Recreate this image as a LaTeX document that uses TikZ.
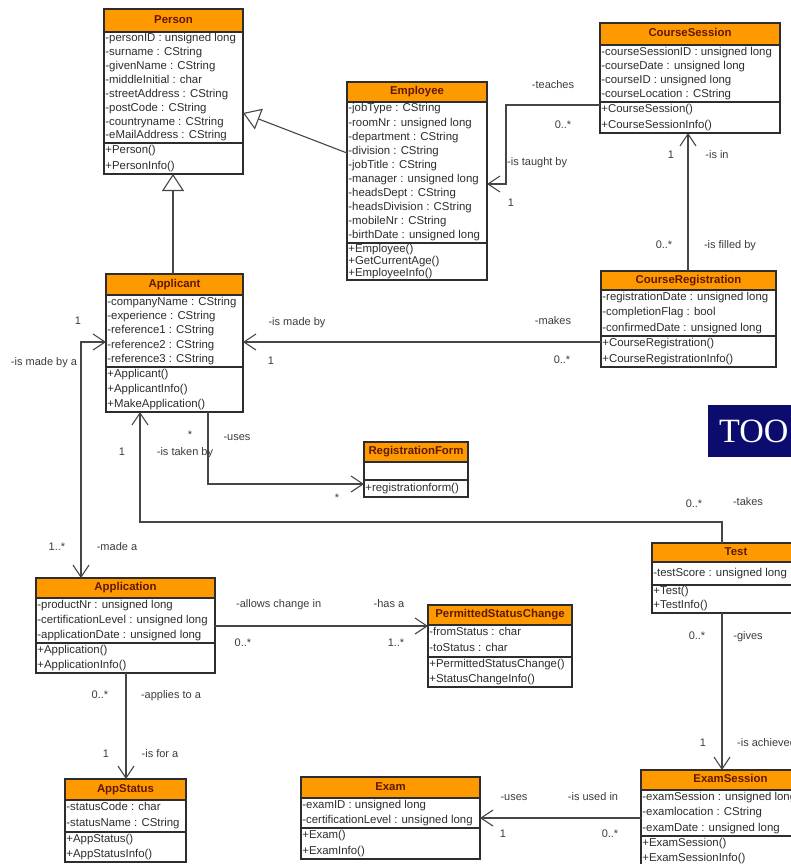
\documentclass[tikz,border=0pt]{standalone}
\usepackage{fontspec}
\setmainfont{Liberation Sans}
\newfontfamily\bannerfont{Liberation Serif}
\usetikzlibrary{arrows.meta}

\definecolor{headorange}{RGB}{255,153,0}
\definecolor{headink}{RGB}{95,25,0}
\definecolor{bodyink}{RGB}{45,45,45}
\definecolor{edgeink}{RGB}{45,45,45}
\definecolor{lineink}{RGB}{70,70,70}
\definecolor{labelink}{RGB}{60,60,60}
\definecolor{bannerblue}{RGB}{12,12,110}

\tikzset{
  classfill/.style={fill=white, inner sep=0pt, outer sep=0pt},
  boxedge/.style={draw=edgeink, line width=1.1pt},
  headtext/.style={font=\fontsize{11.4}{13}\selectfont\bfseries, text=headink,
    inner sep=0pt, text height=8.2pt, text depth=2.4pt},
  rowtext/.style={font=\fontsize{11.4}{13}\selectfont, text=bodyink, inner sep=0pt,
    anchor=west, text height=8.2pt, text depth=2.4pt},
  lbl/.style={font=\fontsize{11}{13}\selectfont, text=labelink, inner sep=0pt,
    text height=8pt, text depth=2.2pt},
  conn/.style={draw=lineink, line width=1.1pt},
  assoc/.style={conn, -{Straight Barb[length=12pt,width=16pt]}},
  assocboth/.style={conn, {Straight Barb[length=12pt,width=16pt]}-{Straight Barb[length=12pt,width=16pt]}},
  gen/.style={conn, -{Triangle[open, fill=white, length=17pt, width=22pt]}},
}

% class box: id, title, left, right, top, header bottom, attribute bottom, bottom
\newcommand\umlclass[8]{%
  \node[classfill, minimum width={#4-#3}, minimum height={#8-#5}, anchor=north west] (#1) at (#3,#5) {};
  \fill[headorange] (#3,#5) rectangle (#4,#6);
  \node[headtext] (#1-title) at ({(#3+#4)/2},{(#5+#6)/2}) {#2};
  \draw[boxedge] (#3,#6) -- (#4,#6);
  \draw[boxedge] (#3,#7) -- (#4,#7);
  \draw[boxedge] (#1.north west) rectangle (#1.south east);
}
% compartment rows: name prefix, left, top, bottom, count, entries
\newcommand\classrows[6]{%
  \foreach \rowtxt [count=\rowidx] in {#6}{%
    \node[rowtext] (#1-\rowidx) at ({#2+1.2},{#3+(#4-#3)*(\rowidx-0.5)/#5}) {\rowtxt};
  }%
}

\begin{document}
\begin{tikzpicture}[x=1pt, y=-1pt]
\useasboundingbox (0,0) rectangle (791,864);
\clip (0,0) rectangle (791,864);
\fill[white] (0,0) rectangle (791,864);

% ---------- classes ----------
\umlclass{Person}{Person}{104}{243}{9}{32}{143}{174}
\classrows{Person-a}{104}{32}{143}{8}{-personID : unsigned long, -surname : CString, -givenName : CString, -middleInitial : char, -streetAddress : CString, -postCode : CString, -countryname : CString, -eMailAddress : CString}
\classrows{Person-m}{104}{143}{174}{2}{+Person(), +PersonInfo()}

\umlclass{Employee}{Employee}{347}{487}{82}{102}{243}{280}
\classrows{Employee-a}{347}{102}{243}{10}{-jobType : CString, -roomNr : unsigned long, -department : CString, -division : CString, -jobTitle : CString, -manager : unsigned long, -headsDept : CString, -headsDivision : CString, -mobileNr : CString, -birthDate : unsigned long}
\classrows{Employee-m}{347}{243}{280}{3}{+Employee(), +GetCurrentAge(), +EmployeeInfo()}

\umlclass{CourseSession}{CourseSession}{600}{780}{23}{45}{102}{133}
\classrows{CourseSession-a}{600}{45}{102}{4}{-courseSessionID : unsigned long, -courseDate : unsigned long, -courseID : unsigned long, -courseLocation : CString}
\classrows{CourseSession-m}{600}{102}{133}{2}{+CourseSession(), +CourseSessionInfo()}

\umlclass{CourseRegistration}{CourseRegistration}{601}{776}{271}{290}{336}{367}
\classrows{CourseRegistration-a}{601}{290}{336}{3}{-registrationDate : unsigned long, -completionFlag : bool, -confirmedDate : unsigned long}
\classrows{CourseRegistration-m}{601}{336}{367}{2}{+CourseRegistration(), +CourseRegistrationInfo()}

\umlclass{Applicant}{Applicant}{106}{243}{274}{295}{367}{412}
\classrows{Applicant-a}{106}{295}{367}{5}{-companyName : CString, -experience : CString, -reference1 : CString, -reference2 : CString, -reference3 : CString}
\classrows{Applicant-m}{106}{367}{412}{3}{+Applicant(), +ApplicantInfo(), +MakeApplication()}

\umlclass{RegistrationForm}{RegistrationForm}{364}{468}{442}{462}{480}{497}
\classrows{RegistrationForm-m}{364}{480}{497}{1}{+registrationform()}

\umlclass{Application}{Application}{36}{215}{578}{598}{643}{673}
\classrows{Application-a}{36}{598}{643}{3}{-productNr : unsigned long, -certificationLevel : unsigned long, -applicationDate : unsigned long}
\classrows{Application-m}{36}{643}{673}{2}{+Application(), +ApplicationInfo()}

\umlclass{PSC}{PermittedStatusChange}{428}{572}{605}{625}{657}{687}
\classrows{PSC-a}{428}{625}{657}{2}{-fromStatus : char, -toStatus : char}
\classrows{PSC-m}{428}{657}{687}{2}{+PermittedStatusChange(), +StatusChangeInfo()}

\umlclass{Test}{Test}{652}{820}{543}{562}{585}{613}
\classrows{Test-a}{652}{562}{585}{1}{-testScore : unsigned long}
\classrows{Test-m}{652}{585}{613}{2}{+Test(), +TestInfo()}

\umlclass{AppStatus}{AppStatus}{65}{186}{779}{800}{832}{862}
\classrows{AppStatus-a}{65}{800}{832}{2}{-statusCode : char, -statusName : CString}
\classrows{AppStatus-m}{65}{832}{862}{2}{+AppStatus(), +AppStatusInfo()}

\umlclass{Exam}{Exam}{301}{480}{777}{798}{828}{859}
\classrows{Exam-a}{301}{798}{828}{2}{-examID : unsigned long, -certificationLevel : unsigned long}
\classrows{Exam-m}{301}{828}{859}{2}{+Exam(), +ExamInfo()}

\umlclass{ExamSession}{ExamSession}{641}{820}{770}{790}{836}{866}
\classrows{ExamSession-a}{641}{790}{836}{3}{-examSession : unsigned long, -examlocation : CString, -examDate : unsigned long}
\classrows{ExamSession-m}{641}{836}{866}{2}{+ExamSession(), +ExamSessionInfo()}

% ---------- banner ----------
\node[fill=bannerblue, inner sep=0pt, outer sep=0pt, minimum width=90pt, minimum height=52pt, anchor=north west] (banner) at (708,405) {};
\node[font=\bannerfont\fontsize{34}{36}\selectfont, text=white, inner sep=0pt, anchor=base west] (bannertext) at (719,442) {TOO};

% ---------- generalisations ----------
\draw[gen] (Employee.west |- 0,153) -- (Person.east |- 0,113);
\draw[gen] (Applicant.north -| 173,0) -- (Person.south -| 173,0);

% ---------- associations ----------
\draw[assoc] (CourseSession.west |- 0,105) -- (506,105) -- (506,184) -- (Employee.east |- 0,184);
\draw[assoc] (CourseRegistration.north -| 688,0) -- (CourseSession.south -| 688,0);
\draw[assoc] (CourseRegistration.west |- 0,342) -- (Applicant.east |- 0,342);
\draw[assocboth] (Applicant.west |- 0,342) -- (81,342) -- (Application.north -| 81,0);
\draw[assoc] (Test.north -| 722,0) -- (722,522) -- (140,522) -- (Applicant.south -| 140,0);
\draw[assoc] (Applicant.south -| 208,0) -- (208,484) -- (RegistrationForm.west |- 0,484);
\draw[assoc] (Application.east |- 0,626) -- (PSC.west |- 0,626);
\draw[assoc] (Application.south -| 126,0) -- (AppStatus.north -| 126,0);
\draw[assoc] (Test.south -| 722,0) -- (ExamSession.north -| 722,0);
\draw[assoc] (ExamSession.west |- 0,818) -- (Exam.east |- 0,818);

% ---------- role names and multiplicities ----------
\node[lbl] (l-teaches) at (553,86) {-teaches};
\node[lbl] (l-teachesm) at (563,126) {0..*};
\node[lbl, anchor=west] (l-taught) at (507,163) {-is taught by};
\node[lbl] (l-taughtm) at (511,204) {1};
\node[lbl] (l-isinm) at (671,156) {1};
\node[lbl] (l-isin) at (717,156) {-is in};
\node[lbl] (l-filledm) at (664,246) {0..*};
\node[lbl] (l-filled) at (730,246) {-is filled by};
\node[lbl] (l-makes) at (553,322) {-makes};
\node[lbl] (l-makesm) at (562,361) {0..*};
\node[lbl] (l-madeby) at (297,323) {-is made by};
\node[lbl] (l-madebym) at (271,362) {1};
\node[lbl] (l-madebyam) at (78,322) {1};
\node[lbl] (l-madebya) at (44,363) {-is made by a};
\node[lbl] (l-usesm) at (190,436) {*};
\node[lbl] (l-uses) at (237,438) {-uses};
\node[lbl] (l-takenm) at (122,453) {1};
\node[lbl] (l-taken) at (185,453) {-is taken by};
\node[lbl] (l-formm) at (337,499) {*};
\node[lbl] (l-takesm) at (694,505) {0..*};
\node[lbl] (l-takes) at (748,503) {-takes};
\node[lbl] (l-madeam) at (57,548) {1..*};
\node[lbl] (l-madea) at (117,548) {-made a};
\node[lbl, anchor=west] (l-allows) at (236,605) {-allows change in};
\node[lbl] (l-allowsm) at (243,644) {0..*};
\node[lbl] (l-hasa) at (389,605) {-has a};
\node[lbl] (l-hasam) at (396,644) {1..*};
\node[lbl] (l-givesm) at (697,637) {0..*};
\node[lbl] (l-gives) at (748,637) {-gives};
\node[lbl] (l-appliesm) at (100,696) {0..*};
\node[lbl] (l-applies) at (171,696) {-applies to a};
\node[lbl] (l-achievedm) at (703,744) {1};
\node[lbl, anchor=west] (l-achieved) at (737,744) {-is achieved};
\node[lbl] (l-foram) at (106,755) {1};
\node[lbl] (l-fora) at (160,755) {-is for a};
\node[lbl] (l-examuses) at (514,798) {-uses};
\node[lbl] (l-usedin) at (593,798) {-is used in};
\node[lbl] (l-examusesm) at (503,835) {1};
\node[lbl] (l-usedinm) at (610,835) {0..*};
\end{tikzpicture}
\end{document}
